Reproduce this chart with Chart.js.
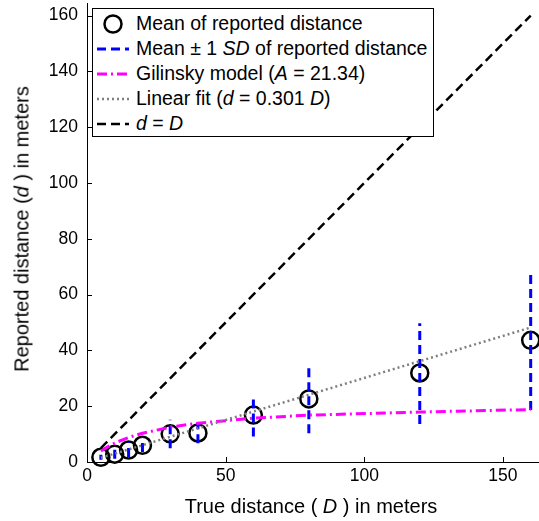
<!DOCTYPE html>
<html>
<head>
<meta charset="utf-8">
<script src="https://cdn.jsdelivr.net/npm/chart.js@4.4.0/dist/chart.umd.min.js"></script>
<style>
  body { margin: 0; background: #fff; }
  #wrap { position: relative; width: 539px; height: 521px; font-family: "Liberation Sans", Arial, sans-serif; color: #000; }
  #c { position: absolute; left: 0; top: 0; }
  #legend { position: absolute; left: 92px; top: 8px; width: 342px; height: 129px; box-sizing: border-box;
            border: 1px solid #000; background: #fff; padding-top: 2px; }
  #legend .row { display: flex; align-items: center; height: 25px; font-size: 19.5px; white-space: nowrap; }
  #legend svg { margin-left: 4px; margin-right: 7px; flex: none; }
  .xtitle { position: absolute; left: 311px; top: 495px; transform: translateX(-50%); font-size: 20px; white-space: nowrap; }
  .ytitle { position: absolute; left: 22px; top: 229px; transform: translate(-50%, -50%) rotate(-90deg); font-size: 20px; white-space: nowrap; }
</style>
</head>
<body>
<div id="wrap">
  <canvas id="c" width="539" height="521"></canvas>
  <div id="legend"></div>
  <div class="xtitle">True distance ( <i>D</i> ) in meters</div>
  <div class="ytitle">Reported distance (<i>d</i> ) in meters</div>
</div>
<script>
// values
const trueDist = [5, 10, 15, 20, 30, 40, 60, 80, 120, 160];
const meanReported = [1.7, 2.8, 4.3, 6.0, 10.1, 10.4, 16.8, 22.6, 31.9, 43.6];
const sdLow = [0.8, 1.2, 1.8, 3.6, 4.9, 6.7, 9.1, 10.3, 13.6, 18.6];
const sdHigh = [2.6, 4.8, 7.2, 9.0, 15.1, 13.9, 24.0, 35.4, 49.7, 67.4];
const gilinskyVal = [4.0, 6.8, 8.8, 10.3, 12.5, 13.9, 15.7, 16.8, 17.9, 18.8];
const fitD = [5, 160];
const fitVal = [1.5, 48.2];
const identD = [5, 160];
const identVal = [5, 160];
const xTicks = [0, 50, 100, 150];
const yTicks = [0, 20, 40, 60, 80, 100, 120, 140, 160];
const legendLabels = [
  'Mean of reported distance',
  'Mean \u00b1 1 <i>SD</i> of reported distance',
  'Gilinsky model (<i>A</i> = 21.34)',
  'Linear fit (<i>d</i> = 0.301 <i>D</i>)',
  '<i>d</i> = <i>D</i>'
];

const pts = (xs, ys) => xs.map((x, i) => ({ x: x, y: ys[i] }));

// error bars as one line with gaps between the bars
const sdBars = [];
trueDist.forEach((d, i) => {
  sdBars.push({ x: d, y: sdLow[i] }, { x: d, y: sdHigh[i] }, { x: d, y: null });
});

const font = 'Liberation Sans';

const inwardTicks = {
  id: 'inwardTicks',
  afterDraw(chart) {
    const { ctx, chartArea: a, scales: { x, y } } = chart;
    ctx.save();
    ctx.strokeStyle = '#000';
    ctx.lineWidth = 1;
    ctx.beginPath();
    y.ticks.forEach((t, i) => {
      const py = Math.round(y.getPixelForTick(i)) + 0.5;
      ctx.moveTo(a.left, py); ctx.lineTo(a.left + 5, py);
    });
    x.ticks.forEach((t, i) => {
      const px = Math.round(x.getPixelForTick(i)) + 0.5;
      ctx.moveTo(px, a.bottom); ctx.lineTo(px, a.bottom - 5);
    });
    ctx.stroke();
    ctx.restore();
  }
};

const chart = new Chart(document.getElementById('c'), {
  type: 'scatter',
  data: {
    datasets: [
      { label: 'mean', data: pts(trueDist, meanReported), showLine: false, pointRadius: 8.5,
        pointBorderWidth: 2.5, pointBorderColor: '#000', pointBackgroundColor: 'rgba(0,0,0,0)',
        borderColor: '#000', clip: false, order: 5 },
      { label: 'sd', data: sdBars, showLine: true, spanGaps: false, pointRadius: 0,
        borderColor: '#0000ff', borderWidth: 3, borderDash: [9, 5], order: 4 },
      { label: 'gilinsky', data: pts(trueDist, gilinskyVal), showLine: true, pointRadius: 0,
        borderColor: '#ff00ff', borderWidth: 3, borderDash: [10, 4, 2, 4], order: 3 },
      { label: 'fit', data: pts(fitD, fitVal), showLine: true, pointRadius: 0,
        borderColor: '#7f7f7f', borderWidth: 2.5, borderDash: [2, 3], order: 2 },
      { label: 'identity', data: pts(identD, identVal), showLine: true, pointRadius: 0,
        borderColor: '#000', borderWidth: 2.5, borderDash: [9, 5], order: 1 }
    ]
  },
  options: {
    responsive: false,
    animation: false,
    layout: { autoPadding: false, padding: { top: 3, right: 0, left: 0, bottom: 0 } },
    plugins: { legend: { display: false }, tooltip: { enabled: false } },
    scales: {
      x: {
        type: 'linear', min: 0, max: 163,
        grid: { display: false, drawTicks: false },
        border: { color: '#000', width: 1 },
        ticks: { color: '#000', font: { family: font, size: 17.5 }, padding: 4, maxRotation: 0 },
        afterBuildTicks: s => { s.ticks = xTicks.map(v => ({ value: v })); },
        afterFit: s => { s.height = 59; s.paddingLeft = 0; s.paddingRight = 0; }
      },
      y: {
        type: 'linear', min: 0, max: 164.5,
        grid: { display: false, drawTicks: false },
        border: { color: '#000', width: 1 },
        ticks: { color: '#000', font: { family: font, size: 17.5 }, padding: 9 },
        afterBuildTicks: s => { s.ticks = yTicks.map(v => ({ value: v })); },
        afterFit: s => { s.width = 87; s.paddingTop = 0; s.paddingBottom = 0; }
      }
    }
  },
  plugins: [inwardTicks]
});

// legend built from the datasets' own styles
const legendEl = document.getElementById('legend');
chart.data.datasets.forEach((ds, i) => {
  let sample;
  if (!ds.showLine) {
    sample = `<svg width="32" height="22"><circle cx="16" cy="11" r="8.5" fill="none" stroke="${ds.pointBorderColor}" stroke-width="${ds.pointBorderWidth}"/></svg>`;
  } else {
    sample = `<svg width="32" height="22"><line x1="0" y1="11" x2="32" y2="11" stroke="${ds.borderColor}" stroke-width="${ds.borderWidth}" stroke-dasharray="${ds.borderDash.join(' ')}"/></svg>`;
  }
  const row = document.createElement('div');
  row.className = 'row';
  row.innerHTML = sample + '<span>' + legendLabels[i] + '</span>';
  legendEl.appendChild(row);
});
</script>
</body>
</html>
